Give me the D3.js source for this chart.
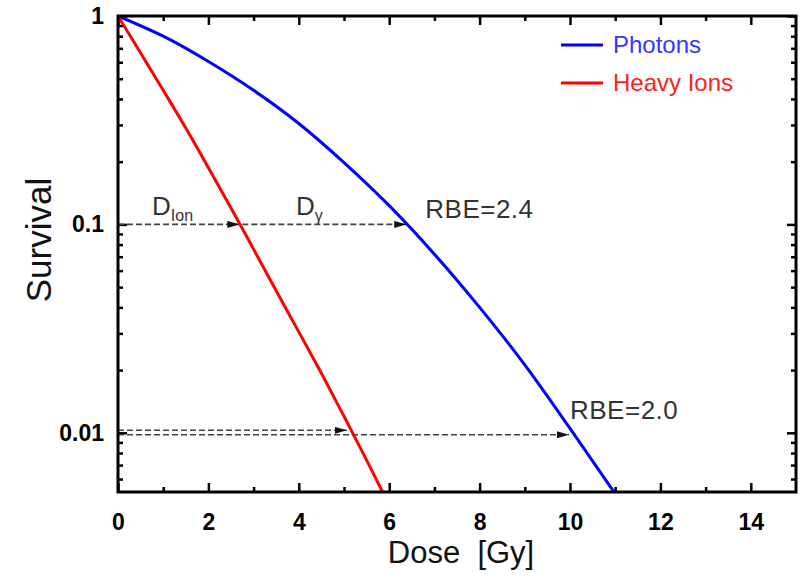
<!DOCTYPE html>
<html>
<head>
<meta charset="utf-8">
<script src="https://cdn.jsdelivr.net/npm/d3@7"></script>
<style>
  body { margin: 0; background: #fff; }
  svg { display: block; }
  .tick text { font-family: "Liberation Sans", Arial, sans-serif; font-weight: bold; }
</style>
</head>
<body>
<svg id="chart" width="807" height="576"></svg>
<script>
// survival curves
const photonDose = [0, 1, 2, 3, 4, 5, 6, 7, 8, 9, 10, 11];
const photonSurv = [1, 0.80, 0.605, 0.44, 0.305, 0.198, 0.123, 0.072, 0.040, 0.0212, 0.0105, 0.0051];
const ionDose = [0, 0.5, 1, 1.5, 2, 2.5, 3, 3.5, 4, 4.5, 5, 5.5, 6];
const ionSurv = [1, 0.665, 0.44, 0.29, 0.187, 0.12, 0.076, 0.048, 0.0305, 0.0193, 0.012, 0.0074, 0.0045];

const xTicks = [0, 2, 4, 6, 8, 10, 12, 14];
const xMinor = [1, 3, 5, 7, 9, 11, 13];
const yTicks = [1, 0.1, 0.01];
const yTickLabels = ["1", "0.1", "0.01"];
const yMinor = [0.006, 0.007, 0.008, 0.009, 0.02, 0.03, 0.04, 0.05, 0.06, 0.07, 0.08, 0.09,
                0.2, 0.3, 0.4, 0.5, 0.6, 0.7, 0.8, 0.9];

// RBE arrows: survival level, ion dose, photon dose, label
const rbeLevels = [0.1, 0.01];
const rbeIonDose = [2.75, 5.15];
const rbePhotonDose = [6.4, 10.0];
const rbeLabels = ["RBE=2.4", "RBE=2.0"];

const seriesNames = ["Photons", "Heavy Ions"];
const seriesColors = ["#0000ff", "#ff0000"];

const margin = {top: 16, left: 118, right: 11, bottom: 84};
const W = 807, H = 576;
const w = W - margin.left - margin.right;
const h = H - margin.top - margin.bottom;

const svg = d3.select("#chart");
const g = svg.append("g").attr("transform", `translate(${margin.left},${margin.top})`);

const x = d3.scaleLinear().domain([0, 15]).range([0, w]);
const y = d3.scaleLog().domain([0.0052, 1]).range([h, 0]);

g.append("clipPath").attr("id", "clip")
  .append("rect").attr("width", w).attr("height", h);

// axes, ticks pointing inwards
function styleAxis(sel) {
  sel.select(".domain").remove();
  sel.selectAll(".tick line").attr("stroke", "#000").attr("stroke-width", 2.5);
}
const fs = 23;
g.append("g").attr("transform", `translate(0,${h})`)
  .call(d3.axisBottom(x).tickValues(xTicks).tickSize(-9).tickPadding(22).tickFormat(d3.format("d")))
  .call(styleAxis)
  .call(s => s.selectAll("text").attr("font-size", fs).attr("fill", "#000"));
g.append("g").attr("transform", `translate(0,${h})`)
  .call(d3.axisBottom(x).tickValues(xMinor).tickSize(-5).tickFormat(""))
  .call(styleAxis);
g.append("g")
  .call(d3.axisTop(x).tickValues(xTicks).tickSize(-9).tickFormat(""))
  .call(styleAxis);
g.append("g")
  .call(d3.axisTop(x).tickValues(xMinor).tickSize(-5).tickFormat(""))
  .call(styleAxis);

g.append("g")
  .call(d3.axisLeft(y).tickValues(yTicks).tickSize(-9).tickPadding(14)
    .tickFormat((d, i) => yTickLabels[i]))
  .call(styleAxis)
  .call(s => s.selectAll("text").attr("font-size", fs).attr("fill", "#000"));
g.append("g")
  .call(d3.axisLeft(y).tickValues(yMinor).tickSize(-5).tickFormat(""))
  .call(styleAxis);
g.append("g").attr("transform", `translate(${w},0)`)
  .call(d3.axisRight(y).tickValues(yTicks).tickSize(-9).tickFormat(""))
  .call(styleAxis);
g.append("g").attr("transform", `translate(${w},0)`)
  .call(d3.axisRight(y).tickValues(yMinor).tickSize(-5).tickFormat(""))
  .call(styleAxis);

// dashed RBE lines
svg.append("defs").append("marker")
  .attr("id", "arr").attr("viewBox", "0 0 12 7").attr("refX", 12).attr("refY", 3.5)
  .attr("markerWidth", 12).attr("markerHeight", 7).attr("markerUnits", "userSpaceOnUse")
  .attr("orient", "auto")
  .append("path").attr("d", "M0,0L12,3.5L0,7Z").attr("fill", "#111");

const dashCol = "#444";
function dashed(x1, x2, yy) {
  g.append("line")
    .attr("x1", x1).attr("x2", x2).attr("y1", yy).attr("y2", yy)
    .attr("stroke", dashCol).attr("stroke-width", 1.6).attr("stroke-dasharray", "6,3")
    .attr("marker-end", "url(#arr)");
}
// 0.1 level: one line, arrow at ion and photon crossing
dashed(x(0), x(rbeIonDose[0]) - 3, y(rbeLevels[0]));
dashed(x(rbeIonDose[0]), x(rbePhotonDose[0]) - 1, y(rbeLevels[0]));
// 0.01 level: two slightly offset lines
dashed(x(0), x(rbeIonDose[1]) - 4, y(rbeLevels[1]) - 2.5);
dashed(x(0), x(rbePhotonDose[1]) - 1, y(rbeLevels[1]) + 2);

// curves
const line = d3.line().curve(d3.curveMonotoneX).x(d => x(d[0])).y(d => y(d[1]));
const curves = [d3.zip(photonDose, photonSurv), d3.zip(ionDose, ionSurv)];
g.append("g").attr("clip-path", "url(#clip)")
  .selectAll("path").data(curves).join("path")
  .attr("d", line).attr("fill", "none")
  .attr("stroke", (d, i) => seriesColors[i]).attr("stroke-width", 3);

// frame
g.append("rect").attr("width", w).attr("height", h)
  .attr("fill", "none").attr("stroke", "#000").attr("stroke-width", 3);

// annotations
const txt = "#333";
const annFont = "'Liberation Sans', Arial, sans-serif";
rbeLabels.forEach((t, i) => {
  g.append("text")
    .attr("x", x(rbePhotonDose[i]) + (i === 0 ? 18 : 0))
    .attr("y", y(rbeLevels[i]) - (i === 0 ? 6 : 14))
    .attr("font-family", annFont).attr("font-size", 26).attr("fill", txt)
    .attr("letter-spacing", 0.5)
    .text(t);
});
const dIon = g.append("text").attr("x", 34).attr("y", y(0.1) - 9)
  .attr("font-family", annFont).attr("font-size", 26).attr("fill", txt);
dIon.append("tspan").text("D");
dIon.append("tspan").attr("font-size", 16).attr("dy", 6).text("Ion");
const dGam = g.append("text").attr("x", 178).attr("y", y(0.1) - 9)
  .attr("font-family", annFont).attr("font-size", 26).attr("fill", txt);
dGam.append("tspan").text("D");
dGam.append("tspan").attr("font-size", 16).attr("dy", 6).text("γ");

// legend
const leg = g.append("g").attr("transform", `translate(${x(9.8)},29)`);
seriesNames.forEach((n, i) => {
  const r = leg.append("g").attr("transform", `translate(0,${i * 38})`);
  r.append("line").attr("x1", 0).attr("x2", 42).attr("stroke", seriesColors[i]).attr("stroke-width", 3);
  r.append("text").attr("x", 52).attr("y", 8)
    .attr("font-family", annFont).attr("font-size", 24)
    .attr("fill", i === 0 ? "#3535ff" : "#ff2020").text(n);
});

// axis titles
svg.append("text")
  .attr("x", margin.left + x(7.5) + 4).attr("y", 563)
  .attr("text-anchor", "middle")
  .attr("font-family", annFont).attr("font-size", 31).attr("fill", "#111")
  .style("white-space", "pre")
  .text("Dose  [Gy]");
svg.append("text")
  .attr("transform", `translate(51,240) rotate(-90)`)
  .attr("text-anchor", "middle")
  .attr("font-family", annFont).attr("font-size", 35).attr("fill", "#111")
  .text("Survival");
</script>
</body>
</html>
